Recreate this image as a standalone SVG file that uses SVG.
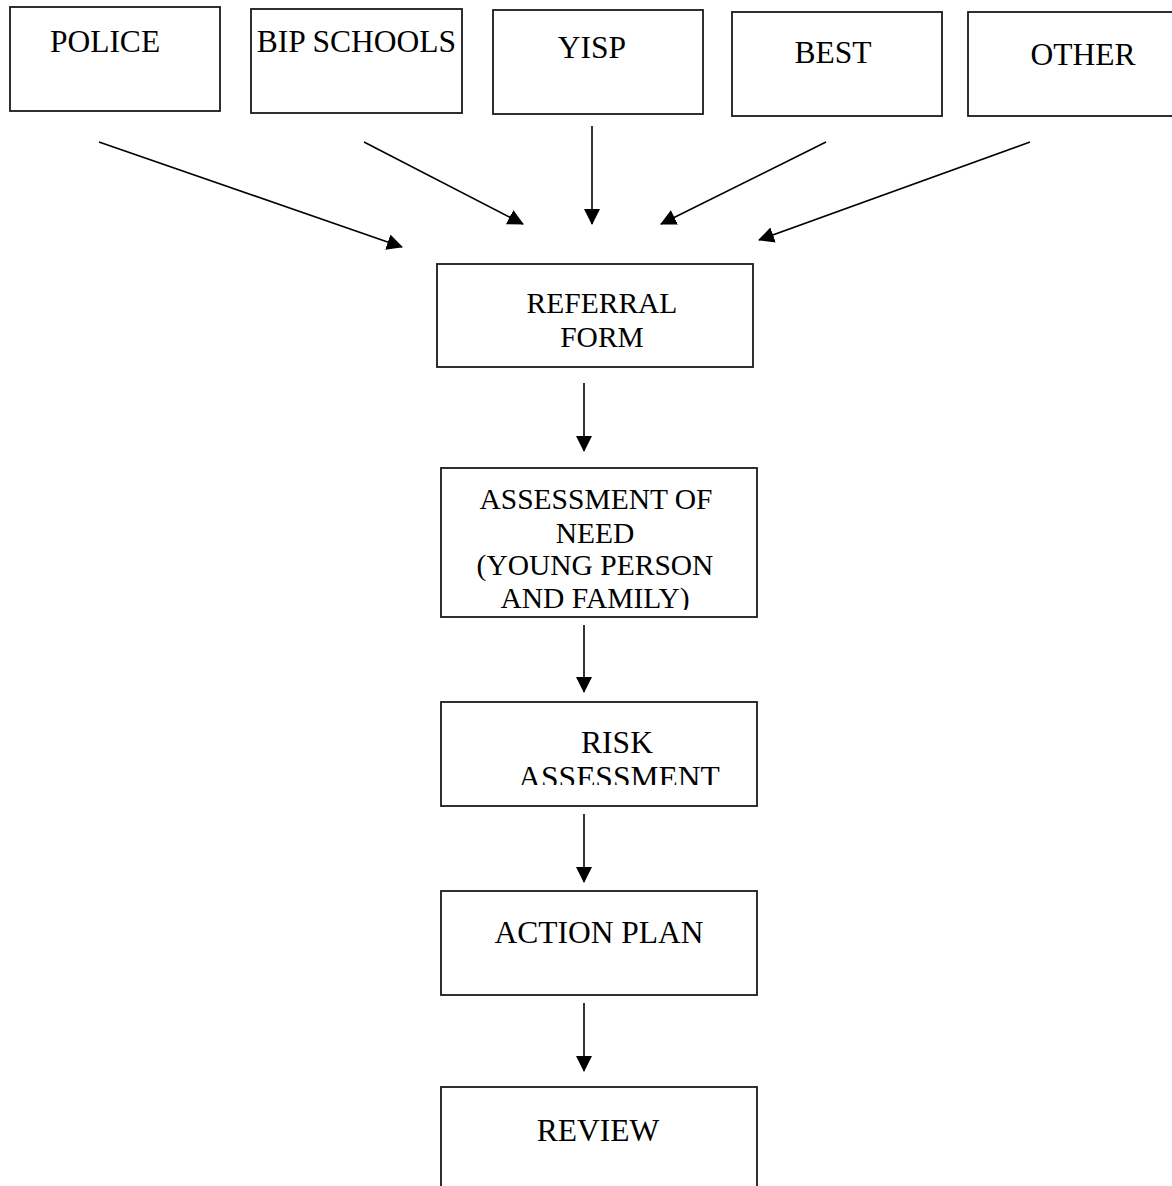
<svg xmlns="http://www.w3.org/2000/svg" width="1172" height="1186" viewBox="0 0 1172 1186">
<style>
  .box { fill: #ffffff; stroke: #1a1a1a; stroke-width: 1.8; }
  .lbl { font-family: "Liberation Serif", "Times New Roman", serif; font-size: 31.5px; fill: #000000; text-anchor: middle; }
  .lbl2 { font-family: "Liberation Serif", "Times New Roman", serif; font-size: 29.5px; fill: #000000; text-anchor: middle; }
  .conn { stroke: #000000; stroke-width: 1.6; fill: none; marker-end: url(#arrow); }
</style>
<defs>
  <marker id="arrow" markerUnits="userSpaceOnUse" markerWidth="17" markerHeight="17" refX="15" refY="8" orient="auto">
    <path d="M0,0 L16,8 L0,16 Z" fill="#000000"/>
  </marker>
  <clipPath id="clipAssess"><rect x="441" y="468" width="316" height="142"/></clipPath>
  <clipPath id="clipRisk"><rect x="441" y="702" width="316" height="83"/></clipPath>
</defs>
<rect x="0" y="0" width="1172" height="1186" fill="#ffffff"/>

<g id="police">
  <rect class="box" x="10" y="7" width="210" height="104"/>
  <text class="lbl" x="105" y="52">POLICE</text>
</g>
<g id="bip-schools">
  <rect class="box" x="251" y="9" width="211" height="104"/>
  <text class="lbl" x="356.5" y="52">BIP SCHOOLS</text>
</g>
<g id="yisp">
  <rect class="box" x="493" y="10" width="210" height="104"/>
  <text class="lbl" x="592" y="58">YISP</text>
</g>
<g id="best">
  <rect class="box" x="732" y="12" width="210" height="104"/>
  <text class="lbl" x="833" y="63">BEST</text>
</g>
<g id="other">
  <rect class="box" x="968" y="12" width="214" height="104"/>
  <text class="lbl" x="1083" y="65">OTHER</text>
</g>
<g id="referral-form">
  <rect class="box" x="437" y="264" width="316" height="103"/>
  <text class="lbl2" x="602" y="313">REFERRAL</text>
  <text class="lbl2" x="602" y="347">FORM</text>
</g>
<g id="assessment-of-need">
  <rect class="box" x="441" y="468" width="316" height="149"/>
  <g clip-path="url(#clipAssess)">
    <text class="lbl2" x="596" y="509">ASSESSMENT OF</text>
    <text class="lbl2" x="595" y="543">NEED</text>
    <text class="lbl2" x="595" y="575">(YOUNG PERSON</text>
    <text class="lbl2" x="595" y="608">AND FAMILY)</text>
  </g>
</g>
<g id="risk-assessment">
  <rect class="box" x="441" y="702" width="316" height="104"/>
  <g clip-path="url(#clipRisk)">
    <text class="lbl" x="617" y="753">RISK</text>
    <text class="lbl" x="619" y="788">ASSESSMENT</text>
  </g>
</g>
<g id="action-plan">
  <rect class="box" x="441" y="891" width="316" height="104"/>
  <text class="lbl" x="599" y="943">ACTION PLAN</text>
</g>
<g id="review">
  <rect class="box" x="441" y="1087" width="316" height="120"/>
  <text class="lbl" x="598" y="1141">REVIEW</text>
</g>

<g id="connectors">
  <line class="conn" x1="99" y1="142" x2="402" y2="247"/>
  <line class="conn" x1="364" y1="142" x2="523" y2="224"/>
  <line class="conn" x1="592" y1="126" x2="592" y2="224"/>
  <line class="conn" x1="826" y1="142" x2="661" y2="224"/>
  <line class="conn" x1="1030" y1="142" x2="759" y2="240"/>
  <line class="conn" x1="584" y1="383" x2="584" y2="451"/>
  <line class="conn" x1="584" y1="625" x2="584" y2="692"/>
  <line class="conn" x1="584" y1="814" x2="584" y2="882"/>
  <line class="conn" x1="584" y1="1003" x2="584" y2="1071"/>
</g>
</svg>
